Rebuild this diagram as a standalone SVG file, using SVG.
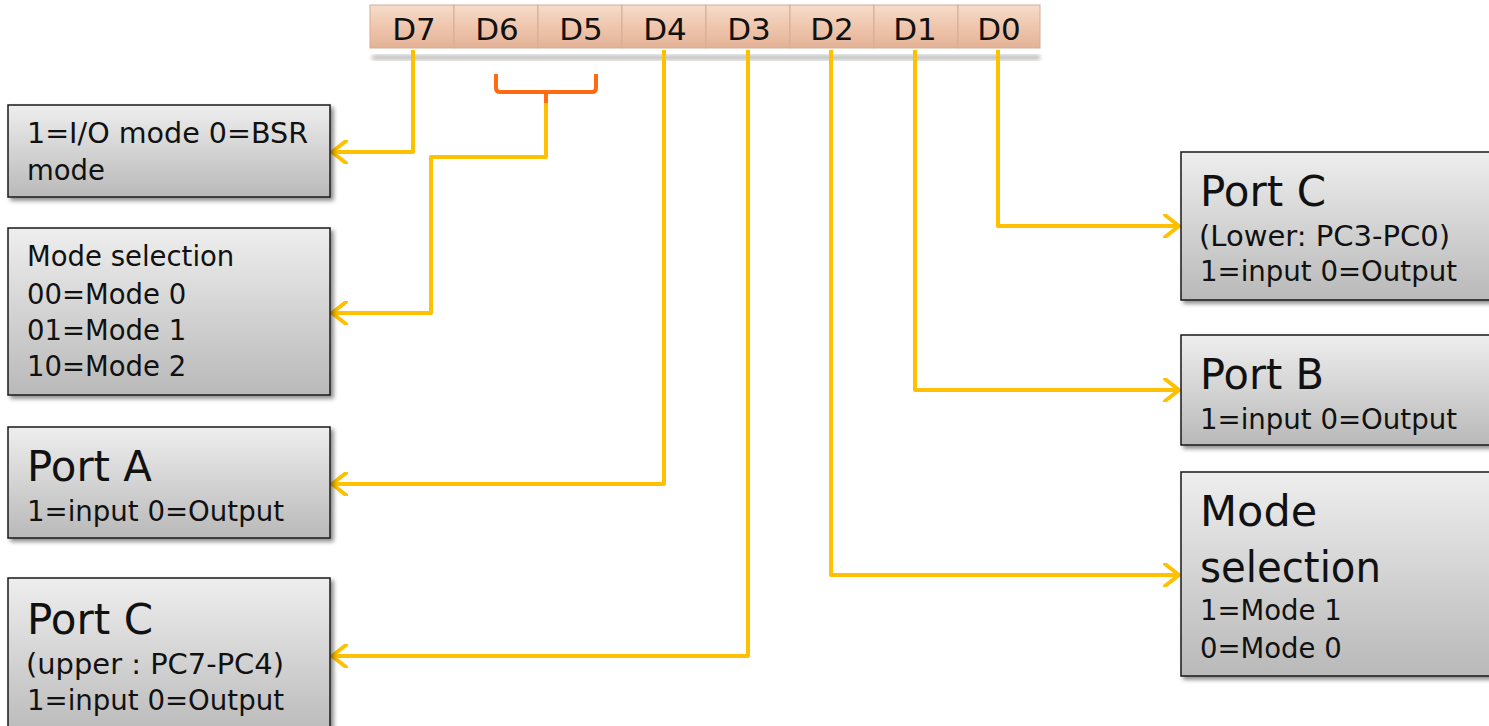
<svg xmlns="http://www.w3.org/2000/svg" width="1489" height="726" viewBox="0 0 1489 726">
<style>
.box{fill:url(#boxg);stroke:#1a1a1a;stroke-width:1.5;filter:url(#sh)}
.cell{fill:url(#cellg);stroke:#d4ad95;stroke-width:1}
.bit{font-family:"DejaVu Sans","Liberation Sans",sans-serif;font-size:31px;fill:#111;text-anchor:middle}
.sm{font-family:"DejaVu Sans","Liberation Sans",sans-serif;font-size:27.5px;fill:#111}
.lg{font-family:"DejaVu Sans","Liberation Sans",sans-serif;font-size:43px;fill:#111}
.con{fill:none;stroke:#FFC000;stroke-width:4;stroke-linejoin:round;marker-end:url(#ah)}
</style>
<defs>
<linearGradient id="boxg" x1="0" y1="0" x2="0" y2="1"><stop offset="0" stop-color="#eeeeee"/><stop offset="1" stop-color="#b9b9b9"/></linearGradient>
<linearGradient id="cellg" x1="0" y1="0" x2="0" y2="1"><stop offset="0" stop-color="#f6dccb"/><stop offset="0.5" stop-color="#efc6ad"/><stop offset="1" stop-color="#e3b296"/></linearGradient>
<filter id="sh" x="-5%" y="-5%" width="115%" height="120%"><feDropShadow dx="3" dy="3" stdDeviation="2" flood-color="#000" flood-opacity="0.45"/></filter>
<filter id="blur"><feGaussianBlur stdDeviation="2"/></filter>
<marker id="ah" viewBox="0 0 24 24" refX="20" refY="12" markerWidth="24" markerHeight="24" markerUnits="userSpaceOnUse" orient="auto">
<path d="M6,1 L20,12 L6,23" fill="none" stroke="#FFC000" stroke-width="4" stroke-linecap="round" stroke-linejoin="round"/>
</marker>
</defs>
<rect width="1489" height="726" fill="#fff"/>

<g id="register">
<rect x="372" y="55" width="668" height="5" fill="#bbb" filter="url(#blur)"/>
<rect class="cell" x="370" y="5" width="84" height="43"/>
<rect class="cell" x="454" y="5" width="84" height="43"/>
<rect class="cell" x="538" y="5" width="84" height="43"/>
<rect class="cell" x="622" y="5" width="84" height="43"/>
<rect class="cell" x="706" y="5" width="84" height="43"/>
<rect class="cell" x="790" y="5" width="84" height="43"/>
<rect class="cell" x="874" y="5" width="84" height="43"/>
<rect class="cell" x="958" y="5" width="82" height="43"/>
<text class="bit" x="414" y="40">D7</text>
<text class="bit" x="497" y="40">D6</text>
<text class="bit" x="581" y="40">D5</text>
<text class="bit" x="665" y="40">D4</text>
<text class="bit" x="749" y="40">D3</text>
<text class="bit" x="832" y="40">D2</text>
<text class="bit" x="915" y="40">D1</text>
<text class="bit" x="999" y="40">D0</text>
</g>

<g id="bracket">
<path d="M496,74 V88 Q496,92 500,92 H592 Q596,92 596,88 V74 M546,92 V103" fill="none" stroke="#FF6A13" stroke-width="4"/>
</g>

<g id="connectors">
<path class="con" d="M413,50 V152 H332"/>
<path class="con" d="M546,103 V157 H431 V313 H332"/>
<path class="con" d="M664,50 V484 H332"/>
<path class="con" d="M748,50 V656 H332"/>
<path class="con" d="M831,50 V575 H1179"/>
<path class="con" d="M915,50 V390 H1179"/>
<path class="con" d="M998,50 V226 H1179"/>
</g>

<g id="box-d7">
<rect class="box" x="8" y="105" width="322" height="92"/>
<text class="sm" x="27" y="143" textLength="281" lengthAdjust="spacingAndGlyphs">1=I/O mode 0=BSR</text>
<text class="sm" x="27" y="180">mode</text>
</g>

<g id="box-d6d5">
<rect class="box" x="8" y="228" width="322" height="167"/>
<text class="sm" x="27" y="266">Mode selection</text>
<text class="sm" x="27" y="304">00=Mode 0</text>
<text class="sm" x="27" y="340">01=Mode 1</text>
<text class="sm" x="27" y="376">10=Mode 2</text>
</g>

<g id="box-d4">
<rect class="box" x="8" y="427" width="322" height="111"/>
<text class="lg" x="27" y="481" textLength="125" lengthAdjust="spacingAndGlyphs">Port A</text>
<text class="sm" x="27" y="521" textLength="257" lengthAdjust="spacingAndGlyphs">1=input 0=Output</text>
</g>

<g id="box-d3">
<rect class="box" x="8" y="578" width="322" height="160"/>
<text class="lg" x="27" y="634" textLength="126" lengthAdjust="spacingAndGlyphs">Port C</text>
<text class="sm" x="26" y="674" textLength="258" lengthAdjust="spacingAndGlyphs">(upper : PC7-PC4)</text>
<text class="sm" x="27" y="710" textLength="257" lengthAdjust="spacingAndGlyphs">1=input 0=Output</text>
</g>

<g id="box-d0">
<rect class="box" x="1181" y="152" width="320" height="148"/>
<text class="lg" x="1200" y="206" textLength="126" lengthAdjust="spacingAndGlyphs">Port C</text>
<text class="sm" x="1199" y="246" textLength="251" lengthAdjust="spacingAndGlyphs">(Lower: PC3-PC0)</text>
<text class="sm" x="1200" y="281" textLength="257" lengthAdjust="spacingAndGlyphs">1=input 0=Output</text>
</g>

<g id="box-d1">
<rect class="box" x="1181" y="335" width="320" height="110"/>
<text class="lg" x="1200" y="389" textLength="124" lengthAdjust="spacingAndGlyphs">Port B</text>
<text class="sm" x="1200" y="429" textLength="257" lengthAdjust="spacingAndGlyphs">1=input 0=Output</text>
</g>

<g id="box-d2">
<rect class="box" x="1181" y="472" width="320" height="204"/>
<text class="lg" x="1200" y="526">Mode</text>
<text class="lg" x="1200" y="582" textLength="181" lengthAdjust="spacingAndGlyphs">selection</text>
<text class="sm" x="1200" y="620">1=Mode 1</text>
<text class="sm" x="1200" y="658">0=Mode 0</text>
</g>
</svg>
